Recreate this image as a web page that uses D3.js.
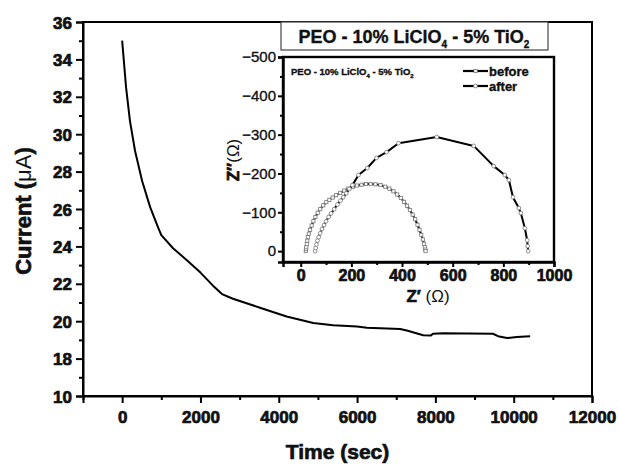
<!DOCTYPE html>
<html><head><meta charset="utf-8">
<script src="https://cdn.jsdelivr.net/npm/d3@7"></script>
<style>
body{margin:0;background:#fff}
text{font-family:"Liberation Sans",Arial,Helvetica,sans-serif;fill:#111}
.heavy{stroke:#111;stroke-width:0.7px}
.med{stroke:#111;stroke-width:0.35px}
</style>
</head><body>
<svg id="c" width="619" height="464"></svg>
<script>
// ---- main chart data ----
const timeSec = [0, 100, 200, 330, 510, 715, 920, 1000, 1300, 1660, 2000, 2320, 2550, 2830, 3520, 4200, 4880, 5390, 6000, 6250, 7100, 7270, 7690, 7880, 7940, 8200, 9470, 9600, 9830, 10080, 10420];
const currentUA = [35.0, 32.5, 30.7, 29.1, 27.5, 26.1, 25.0, 24.6, 23.9, 23.25, 22.6, 21.9, 21.45, 21.2, 20.72, 20.25, 19.9, 19.78, 19.72, 19.65, 19.58, 19.5, 19.25, 19.23, 19.33, 19.35, 19.33, 19.2, 19.1, 19.15, 19.2];
const xTickValues = [0, 2000, 4000, 6000, 8000, 10000, 12000];
const xMinorValues = [-1000, 1000, 3000, 5000, 7000, 9000, 11000];
const yTickValues = [16, 18, 20, 22, 24, 26, 28, 30, 32, 34, 36];
const yTickLabels = ["10", "18", "20", "22", "24", "26", "28", "30", "32", "34", "36"];
const yMinorValues = [17, 19, 21, 23, 25, 27, 29, 31, 33, 35];

// ---- inset data (Nyquist) ----
const beforeZre = [20, 21, 22, 24, 26, 28, 32, 37, 43, 50, 58, 67, 77, 89, 101, 113, 126, 140, 156, 172, 188, 205, 222, 240, 258, 276, 295, 315, 334, 350, 366, 381, 395, 408, 420, 431, 442, 452, 461, 469, 476, 482, 487, 490, 492, 493];
const beforeZim = [0, -5, -10, -18, -27, -36, -45, -55, -66, -77, -88, -99, -108, -118, -126, -132, -138, -144, -150, -156, -161, -165, -169, -171, -173, -173, -172, -170, -166, -161, -154, -146, -137, -127, -117, -106, -94, -82, -68, -55, -42, -30, -19, -10, -4, 0];
const afterZre = [57, 59, 62, 66, 71, 77, 84, 92, 100, 110, 120, 132, 145, 157, 168, 180, 192, 204, 228, 263, 299, 339, 386, 537, 683, 762, 806, 822, 838, 861, 869, 885, 894, 896, 898];
const afterZim = [0, -8, -17, -27, -36, -46, -57, -67, -77, -88, -97, -108, -120, -130, -139, -149, -160, -170, -196, -214, -240, -255, -278, -294, -271, -219, -196, -183, -139, -111, -98, -59, -28, -13, 0];
const insetXTicks = [0, 200, 400, 600, 800, 1000];
const insetXMinor = [100, 300, 500, 700, 900];
const insetYTicks = [0, -100, -200, -300, -400, -500];
const insetYMinor = [-50, -150, -250, -350, -450];

const svg = d3.select("#c");
const L = 83, R = 592, T = 22, B = 396;
const x = d3.scaleLinear().domain([-1000, 12000]).range([L, R]);
const y = d3.scaleLinear().domain([16, 36]).range([B, T]);

// frame
svg.append("rect").attr("x", L).attr("y", T).attr("width", R - L).attr("height", B - T)
  .attr("fill", "none").attr("stroke", "#000").attr("stroke-width", 2);

function styleAxis(g, fs, cls) {
  g.attr("font-family", null);
  g.selectAll("path").attr("stroke", "#000").attr("stroke-width", 2);
  g.selectAll("line").attr("stroke", "#000").attr("stroke-width", 2);
  g.selectAll("text").style("font-size", fs + "px").style("font-weight", "bold").attr("fill", "#111").attr("class", cls);
}

const gx = svg.append("g").attr("transform", `translate(0,${B})`)
  .call(d3.axisBottom(x).tickValues(xTickValues).tickSize(7).tickPadding(8).tickFormat(d3.format("d")));
styleAxis(gx, 17, "heavy");
const gxm = svg.append("g").attr("transform", `translate(0,${B})`)
  .call(d3.axisBottom(x).tickValues(xMinorValues).tickSize(4).tickFormat(""));
styleAxis(gxm, 17, "heavy");
gxm.select("path").remove();

const gy = svg.append("g").attr("transform", `translate(${L},0)`)
  .call(d3.axisLeft(y).tickValues(yTickValues).tickSize(7).tickPadding(4)
    .tickFormat((d, i) => yTickLabels[i]));
styleAxis(gy, 17, "heavy");
gy.selectAll("text").attr("dy", "0.36em");
const gym = svg.append("g").attr("transform", `translate(${L},0)`)
  .call(d3.axisLeft(y).tickValues(yMinorValues).tickSize(4).tickFormat(""));
styleAxis(gym, 17, "heavy");
gym.select("path").remove();

// main curve
const line = d3.line().x((d, i) => x(timeSec[i])).y((d, i) => y(currentUA[i]));
svg.append("path").datum(currentUA).attr("d", line)
  .attr("fill", "none").attr("stroke", "#000").attr("stroke-width", 2).attr("stroke-linejoin", "round");

// axis titles
svg.append("text").attr("x", (L + R) / 2).attr("y", 459).attr("text-anchor", "middle").attr("class", "heavy")
  .style("font-size", "21px").style("font-weight", "bold").text("Time (sec)");
const ct = svg.append("text").attr("transform", `translate(31,${(T + B) / 2 + 2}) rotate(-90)`).attr("text-anchor", "middle")
  .style("font-size", "22px").style("font-weight", "bold");
ct.append("tspan").attr("class", "heavy").text("Current (");
ct.append("tspan").style("font-weight", "normal").text("μA");
ct.append("tspan").attr("class", "heavy").text(")");

// title box
svg.append("rect").attr("x", 281).attr("y", T).attr("width", 267).attr("height", 28)
  .attr("fill", "#fff").attr("stroke", "#444").attr("stroke-width", 1.2);
const tt = svg.append("text").attr("x", 414).attr("y", 43).attr("text-anchor", "middle").attr("class", "med")
  .style("font-size", "18px").style("font-weight", "bold");
tt.append("tspan").text("PEO - 10% LiClO");
tt.append("tspan").attr("dy", 5).style("font-size", "10px").text("4");
tt.append("tspan").attr("dy", -5).text(" - 5% TiO");
tt.append("tspan").attr("dy", 5).style("font-size", "10px").text("2");

// ---- inset ----
const iL = 283, iR = 554, iT = 57, iB = 262;
const ix = d3.scaleLinear().domain([-70, 1000]).range([iL, iR]);
const iy = d3.scaleLinear().domain([28, -500]).range([iB, iT]);
svg.append("rect").attr("x", iL).attr("y", iT).attr("width", iR - iL).attr("height", iB - iT)
  .attr("fill", "#fff").attr("stroke", "#000").attr("stroke-width", 2.4);

const igx = svg.append("g").attr("transform", `translate(0,${iB})`)
  .call(d3.axisBottom(ix).tickValues(insetXTicks).tickSize(5).tickPadding(3).tickFormat(d3.format("d")));
styleAxis(igx, 16, "heavy");
igx.select("path").attr("stroke-width", 2.4);
const igxm = svg.append("g").attr("transform", `translate(0,${iB})`)
  .call(d3.axisBottom(ix).tickValues(insetXMinor).tickSize(3).tickFormat(""));
styleAxis(igxm, 16, "heavy"); igxm.select("path").remove();

const igy = svg.append("g").attr("transform", `translate(${iL},0)`)
  .call(d3.axisLeft(iy).tickValues(insetYTicks).tickSize(5).tickPadding(2).tickFormat(d3.format("d")));
styleAxis(igy, 15, "med");
igy.selectAll("text").style("font-weight", "normal");
igy.select("path").attr("stroke-width", 2.4);
const igym = svg.append("g").attr("transform", `translate(${iL},0)`)
  .call(d3.axisLeft(iy).tickValues(insetYMinor).tickSize(3).tickFormat(""));
styleAxis(igym, 15, "med"); igym.select("path").remove();

// inset series
function series(zre, zim, marker) {
  const ln = d3.line().x((d, i) => ix(zre[i])).y((d, i) => iy(zim[i]));
  svg.append("path").datum(zim).attr("d", ln).attr("fill", "none")
    .attr("stroke", "#000").attr("stroke-width", 2).attr("stroke-linejoin", "round");
  const g = svg.append("g");
  if (marker === "square") {
    g.selectAll("rect").data(zim).join("rect")
      .attr("x", (d, i) => ix(zre[i]) - 1.6).attr("y", d => iy(d) - 1.6)
      .attr("width", 3.2).attr("height", 3.2)
      .attr("fill", "#fff").attr("stroke", "#777").attr("stroke-width", 0.8);
  } else {
    g.selectAll("circle").data(zim).join("circle")
      .attr("cx", (d, i) => ix(zre[i])).attr("cy", d => iy(d)).attr("r", 1.9)
      .attr("fill", "#fff").attr("stroke", "#777").attr("stroke-width", 0.8);
  }
}
series(beforeZre, beforeZim, "square");
series(afterZre, afterZim, "circle");

// inset labels
const il = svg.append("text").attr("x", 291).attr("y", 75).style("font-size", "9.5px").style("font-weight", "bold").attr("class", "med");
il.append("tspan").text("PEO - 10% LiClO");
il.append("tspan").attr("dy", 3).style("font-size", "6px").text("4");
il.append("tspan").attr("dy", -3).text(" - 5% TiO");
il.append("tspan").attr("dy", 3).style("font-size", "6px").text("2");

// legend
const legend = [{name: "before", m: "square", yy: 71}, {name: "after", m: "circle", yy: 86}];
legend.forEach(l => {
  svg.append("line").attr("x1", 463).attr("x2", 488).attr("y1", l.yy).attr("y2", l.yy)
    .attr("stroke", "#000").attr("stroke-width", 2.2);
  if (l.m === "square") {
    svg.append("rect").attr("x", 474).attr("y", l.yy - 1.6).attr("width", 3.2).attr("height", 3.2)
      .attr("fill", "#fff").attr("stroke", "#777").attr("stroke-width", 0.8);
  } else {
    svg.append("circle").attr("cx", 475.5).attr("cy", l.yy).attr("r", 1.9)
      .attr("fill", "#fff").attr("stroke", "#777").attr("stroke-width", 0.8);
  }
  svg.append("text").attr("x", 489).attr("y", l.yy + 4.5).attr("class", "med")
    .style("font-size", "13px").style("font-weight", "bold").text(l.name);
});

// inset axis titles
const zx = svg.append("text").attr("x", 428).attr("y", 302).attr("text-anchor", "middle").style("font-size", "17px");
zx.append("tspan").style("font-weight", "bold").attr("class", "heavy").text("Z′");
zx.append("tspan").text(" (Ω)");
const zy = svg.append("text").attr("transform", `translate(239,160) rotate(-90)`).attr("text-anchor", "middle").style("font-size", "17px");
zy.append("tspan").style("font-weight", "bold").attr("class", "heavy").text("Z″");
zy.append("tspan").text("(Ω)");
</script>
</body></html>
